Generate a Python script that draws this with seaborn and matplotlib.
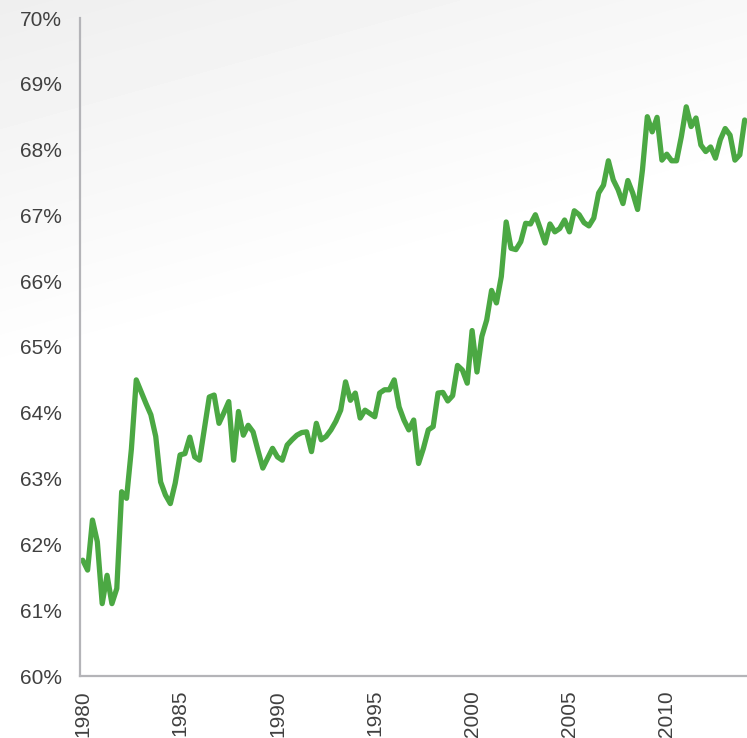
import numpy as np
import pandas as pd
import matplotlib.pyplot as plt
import seaborn as sns

# quarterly values, 1980Q1 .. 2014Q1 (percent)
values = [
    61.76, 61.61, 62.37, 62.04, 61.10, 61.53, 61.10, 61.33, 62.80, 62.70,
    63.45, 64.50, 64.32, 64.14, 63.97, 63.64, 62.95, 62.75, 62.62, 62.93,
    63.36, 63.38, 63.63, 63.33, 63.28, 63.76, 64.24, 64.27, 63.84, 64.00,
    64.17, 63.28, 64.02, 63.66, 63.81, 63.71, 63.43, 63.16, 63.31, 63.46,
    63.33, 63.28, 63.51, 63.59, 63.66, 63.70, 63.71, 63.41, 63.84, 63.59,
    63.64, 63.74, 63.87, 64.04, 64.47, 64.19, 64.30, 63.92, 64.04, 63.99,
    63.94, 64.30, 64.35, 64.35, 64.50, 64.09, 63.89, 63.74, 63.89, 63.23,
    63.46, 63.74, 63.79, 64.30, 64.31, 64.18, 64.26, 64.72, 64.65, 64.45,
    65.25, 64.62, 65.16, 65.41, 65.86, 65.67, 66.07, 66.90, 66.50, 66.48,
    66.60, 66.88, 66.87, 67.01, 66.80, 66.58, 66.87, 66.75, 66.80, 66.93,
    66.75, 67.07, 67.01, 66.89, 66.84, 66.96, 67.34, 67.46, 67.83, 67.54,
    67.39, 67.18, 67.53, 67.34, 67.09, 67.69, 68.50, 68.27, 68.49, 67.84,
    67.93, 67.83, 67.83, 68.20, 68.65, 68.35, 68.48, 68.07, 67.97, 68.04,
    67.87, 68.15, 68.32, 68.22, 67.84, 67.92, 68.45,
]
start_year = 1980
x_ticks = [1980, 1985, 1990, 1995, 2000, 2005, 2010]
y_ticks = [60, 61, 62, 63, 64, 65, 66, 67, 68, 69, 70]

df = pd.DataFrame({"value": values})
df["year"] = start_year + df.index * 0.25

sns.set_style("white")
plt.rcParams["font.family"] = ["Liberation Sans", "DejaVu Sans"]

fig = plt.figure(figsize=(7.47, 7.38), dpi=100)

# soft grey gradient in the upper left corner
bg = fig.add_axes([0, 0, 1, 1])
h, w = 738, 747
yy, xx = np.mgrid[0:h, 0:w]
d = yy + 0.28 * xx
shade = 0.935 + 0.065 * np.clip(d / 380.0, 0, 1)
bg.imshow(shade, cmap="gray", vmin=0, vmax=1, aspect="auto",
          extent=[0, 1, 0, 1], origin="upper")
bg.axis("off")

ax = fig.add_axes([80 / 747, 62 / 738, 1 - 80 / 747, (676 - 18) / 738])
ax.patch.set_alpha(0)

sns.lineplot(data=df, x="year", y="value", ax=ax, color="#4ba843",
             linewidth=3.8, solid_joinstyle="round", solid_capstyle="round")

ax.set_xlim(1979.86, 2014.12)
ax.set_ylim(60, 70)
ax.set_xticks(x_ticks)
ax.set_xticklabels([str(t) for t in x_ticks], rotation=90)
ax.set_yticks(y_ticks)
ax.set_yticklabels([f"{t}%" for t in y_ticks])
ax.set_xlabel("")
ax.set_ylabel("")
ax.tick_params(axis="both", length=0, labelsize=15, colors="#404040")
ax.tick_params(axis="y", pad=13)
ax.tick_params(axis="x", pad=10)

sns.despine(ax=ax)
for s in ["left", "bottom"]:
    ax.spines[s].set_color("#b4b4b8")
    ax.spines[s].set_linewidth(1.6)

fig.savefig("out.png", dpi=100)
